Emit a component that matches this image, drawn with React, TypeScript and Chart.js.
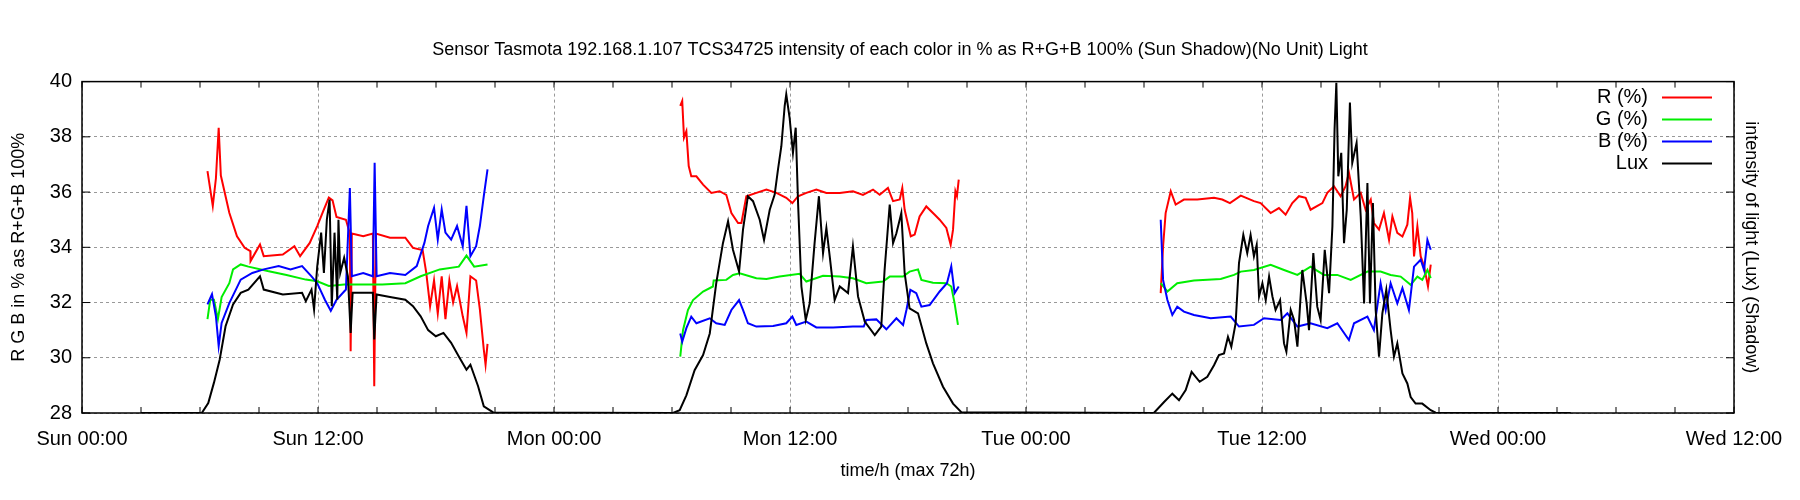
import React, { useEffect, useRef } from "react";
import { Chart, registerables } from "chart.js";
Chart.register(...registerables);

const titleText = "Sensor Tasmota 192.168.1.107 TCS34725 intensity of each color in % as R+G+B 100% (Sun Shadow)(No Unit) Light";
const xTitle = "time/h (max 72h)";
const yTitle = "R G B in % as R+G+B 100%";
const y1Title = "intensity of light (Lux) (Shadow)";
const dayNames = ["Sun", "Mon", "Tue", "Wed"];

// hours since Sun 00:00 ; null = gap
const rHours = [6.38,6.65,6.81,6.95,7.06,7.49,7.88,8.27,8.56,8.57,9.05,9.24,10.21,10.8,11.09,11.58,11.96,12.26,12.55,12.74,12.94,13.42,13.62,13.66,13.72,14.3,14.79,14.86,14.94,15.66,16.44,16.83,17.32,17.5,17.7,17.9,18.09,18.29,18.48,18.68,18.87,19.07,19.36,19.55,19.75,20.04,20.23,20.43,20.52,20.62,
  25,
  30.42,30.52,30.61,30.73,30.85,30.98,31.24,31.58,32.0,32.42,32.76,33.02,33.36,33.53,33.78,34.29,34.8,35.31,35.81,36.12,36.41,36.83,37.34,37.85,38.53,39.2,39.71,40.22,40.56,40.98,41.24,41.58,41.71,41.83,42.14,42.34,42.59,42.93,43.36,43.61,43.95,44.17,44.29,44.41,44.49,44.58,
  50,
  54.85,54.97,55.1,55.36,55.61,56.03,56.71,57.56,57.98,58.37,58.92,59.59,59.93,60.44,60.86,61.2,61.54,61.88,62.22,62.47,63.07,63.32,63.66,64.0,64.25,64.42,64.68,65.02,65.27,65.53,65.69,65.95,66.2,66.46,66.63,66.88,67.14,67.39,67.53,67.64,67.73,67.9,68.07,68.24,68.44,68.58];
const rValues = [36.76,35.5,36.5,38.33,36.6,35.25,34.4,33.98,33.86,33.5,34.1,33.68,33.74,34.04,33.68,34.16,34.77,35.3,35.8,35.7,35.1,35.0,34.5,30.24,34.5,34.4,34.5,28.97,34.5,34.35,34.35,33.98,33.9,33.1,31.87,32.8,31.6,32.95,31.4,32.8,32.0,32.6,31.5,30.9,32.95,32.8,31.75,30.3,29.75,30.5,
  null,
  39.12,39.3,37.97,38.2,36.94,36.57,36.57,36.27,35.97,36.03,35.9,35.24,34.88,34.88,35.85,35.97,36.09,35.97,35.79,35.6,35.85,35.97,36.09,35.97,35.97,36.03,35.9,36.09,35.9,36.15,35.67,35.73,36.15,35.36,34.4,34.46,35.12,35.48,35.18,35.0,34.7,34.09,34.64,36.03,35.85,36.45,
  null,
  32.34,34.03,35.24,36.03,35.55,35.73,35.73,35.79,35.73,35.6,35.87,35.67,35.6,35.24,35.42,35.18,35.6,35.85,35.79,35.36,35.6,35.97,36.21,35.85,36.21,36.7,35.73,35.97,35.36,35.73,34.88,34.64,35.24,34.27,35.12,34.52,34.39,34.82,35.79,35.24,33.67,34.76,33.67,33.31,32.58,33.37];

const gHours = [6.38,6.52,6.71,6.91,7.1,7.49,7.68,8.07,8.46,9.44,10.4,11.38,11.96,12.55,13.33,14.3,15.27,16.44,17.22,18.19,19.16,19.55,19.94,20.62,
  25,
  30.42,30.56,30.81,31.07,31.58,32.08,32.12,32.76,33.1,33.44,34.29,34.8,35.47,36.49,36.83,37.68,38.53,39.2,39.88,40.73,41.07,41.75,42.08,42.51,42.68,43.27,43.95,44.2,44.37,44.54,
  50,
  54.85,55.19,55.69,56.54,57.9,58.58,58.92,59.59,60.44,61.12,61.8,62.47,63.15,63.83,64.51,65.36,66.03,66.54,67.05,67.56,67.9,68.15,68.41,68.58];
const gValues = [31.4,32.1,32.1,31.4,32.2,32.7,33.2,33.38,33.3,33.14,33.0,32.83,32.77,32.6,32.65,32.65,32.65,32.7,32.95,33.2,33.3,33.7,33.3,33.38,
  null,
  30.04,31.0,31.73,32.09,32.4,32.58,32.8,32.82,33.0,33.06,32.88,32.85,32.94,33.04,32.76,32.97,32.94,32.88,32.7,32.76,32.94,32.94,33.12,33.2,32.82,32.72,32.7,32.58,31.97,31.19,
  null,
  32.7,32.4,32.7,32.8,32.85,33.0,33.12,33.18,33.37,33.18,33.0,33.3,33.0,33.0,32.82,33.12,33.12,33.0,32.94,32.64,32.94,32.82,33.18,32.88];

const bHours = [6.38,6.61,6.81,6.95,7.1,7.49,8.07,8.66,9.24,10.0,10.6,11.19,11.67,11.96,12.35,12.65,12.94,13.42,13.62,13.72,14.3,14.79,14.88,14.98,15.66,16.44,17.02,17.41,17.6,17.9,18.09,18.29,18.48,18.77,19.07,19.36,19.55,19.75,20.04,20.23,20.43,20.62,
  25,
  30.42,30.52,30.73,30.98,31.24,31.92,32.25,32.68,33.02,33.41,33.61,33.86,34.29,35.14,35.81,36.12,36.32,36.83,37.34,38.19,39.2,39.75,39.88,40.39,40.9,41.41,41.75,41.92,42.12,42.42,42.68,43.1,43.61,43.98,44.2,44.37,44.58,
  50,
  54.85,54.97,55.19,55.44,55.69,56.03,56.54,57.39,58.41,58.83,59.59,60.1,60.95,61.29,61.8,62.47,63.32,63.83,64.42,64.68,65.36,65.69,66.03,66.29,66.54,66.88,67.14,67.47,67.73,68.07,68.24,68.41,68.58];
const bValues = [31.93,32.3,31.5,30.42,31.26,31.98,32.83,33.07,33.2,33.32,33.2,33.32,32.95,32.7,32.1,31.7,32.1,32.47,36.15,32.95,33.07,32.95,37.06,32.95,33.07,33.0,33.32,34.16,34.77,35.43,34.28,35.37,34.53,34.28,34.77,34.04,35.5,33.68,34.04,34.77,35.85,36.82,
  null,
  30.88,30.58,31.07,31.49,31.25,31.43,31.25,31.19,31.73,32.09,31.73,31.25,31.13,31.15,31.25,31.49,31.19,31.31,31.1,31.1,31.13,31.13,31.37,31.39,31.03,31.43,31.19,31.73,32.46,32.34,31.85,31.91,32.4,32.7,33.31,32.34,32.58,
  null,
  35.0,32.82,32.09,31.55,31.85,31.67,31.55,31.43,31.49,31.13,31.19,31.43,31.37,31.61,31.13,31.25,31.07,31.25,30.64,31.25,31.49,31.0,32.7,31.73,32.7,31.97,32.52,31.73,33.3,33.55,33.18,34.27,33.91];

const luxHours = [3,6.09,6.42,6.71,7.0,7.3,7.68,8.07,8.46,9.05,9.24,10.21,11.19,11.38,11.67,11.8,11.96,12.16,12.3,12.45,12.59,12.7,12.84,12.98,13.04,13.13,13.33,13.52,13.66,13.76,14.3,14.79,14.86,14.98,15.66,16.44,16.83,17.22,17.6,17.99,18.38,18.77,19.16,19.55,19.75,20.14,20.43,20.91,
  30.05,30.39,30.73,31.15,31.58,31.92,32.25,32.59,32.85,33.1,33.41,33.61,33.86,34.12,34.46,34.68,34.97,35.22,35.39,35.56,35.73,35.81,35.98,36.15,36.29,36.41,36.58,36.8,37.0,37.25,37.47,37.68,37.85,38.02,38.27,38.53,38.95,39.2,39.46,39.8,40.31,40.64,40.81,41.07,41.24,41.41,41.66,41.83,42.08,42.51,42.93,43.27,43.78,44.29,44.71,
  54.5,55.02,55.44,55.78,56.12,56.42,56.83,57.22,57.56,57.81,58.07,58.27,58.44,58.66,58.83,59.05,59.25,59.42,59.59,59.73,59.85,60.02,60.19,60.36,60.53,60.69,60.92,61.12,61.24,61.46,61.63,61.8,62.05,62.27,62.39,62.61,62.81,62.98,63.19,63.41,63.58,63.69,63.78,63.88,64.03,64.17,64.31,64.47,64.59,64.81,65.02,65.19,65.36,65.49,65.64,65.78,65.95,66.12,66.32,66.54,66.71,66.88,67.14,67.39,67.56,67.81,68.15,68.58,68.83,75.7];
const luxValues = [0,0,36,110,193,314,393,435,447,495,447,429,435,405,447,375,530,653,507,700,773,387,653,410,700,507,562,495,290,435,435,435,266,429,420,410,387,350,300,278,290,254,205,157,175,97,24,2,
  0,10,64,155,210,288,470,615,694,591,512,664,785,767,700,627,736,791,882,966,1112,1154,1069,942,1033,760,458,337,397,615,785,579,670,567,409,458,434,603,422,331,282,313,518,755,615,651,724,506,379,361,252,180,95,34,3,
  0,40,70,46,83,149,113,131,173,210,216,276,240,325,543,645,579,645,567,609,422,470,409,494,422,373,409,252,222,373,337,240,518,397,300,579,385,337,591,434,676,1027,1196,857,942,615,736,1124,906,978,712,397,833,397,760,373,204,361,446,300,204,252,143,107,58,34,34,10,1,0];

const legendLabels = ["R (%)", "G (%)", "B (%)", "Lux"];
const colors = ["#ff0000", "#00ee00", "#0000ff", "#000000"];

const pts = (h: number[], v: (number | null)[]) => h.map((x, i) => ({ x, y: v[i] }));

export default function App() {
  const ref = useRef<HTMLCanvasElement>(null);
  useEffect(() => {
    document.body.style.margin = "0";
    const font = "'Liberation Sans', Arial, sans-serif";
    const frame = {
      id: "frame",
      afterDraw(chart: any) {
        const { ctx, chartArea: a, scales } = chart;
        ctx.save();
        ctx.strokeStyle = "#000";
        ctx.lineWidth = 1.5;
        ctx.strokeRect(a.left, a.top, a.right - a.left, a.bottom - a.top);
        ctx.lineWidth = 1;
        ctx.beginPath();
        for (let h = 0; h <= 84; h += 3) {
          const x = scales.x.getPixelForValue(h);
          ctx.moveTo(x, a.bottom); ctx.lineTo(x, a.bottom - 6);
          ctx.moveTo(x, a.top); ctx.lineTo(x, a.top + 6);
        }
        for (let v = 28; v <= 40; v += 2) {
          const y = scales.y.getPixelForValue(v);
          ctx.moveTo(a.left, y); ctx.lineTo(a.left + 8, y);
          ctx.moveTo(a.right, y); ctx.lineTo(a.right - 8, y);
        }
        ctx.stroke();
        // legend
        ctx.font = `20px ${font}`;
        ctx.textAlign = "right";
        ctx.textBaseline = "middle";
        legendLabels.forEach((t, i) => {
          const y = a.top + 16 + i * 22;
          ctx.fillStyle = "#000";
          ctx.fillText(t, a.right - 86, y);
          ctx.strokeStyle = colors[i];
          ctx.lineWidth = 2;
          ctx.beginPath();
          ctx.moveTo(a.right - 72, y); ctx.lineTo(a.right - 22, y);
          ctx.stroke();
        });
        ctx.restore();
      },
    };
    const mk = (i: number, data: any[], axis: string, order: number) => ({
      label: legendLabels[i], data, borderColor: colors[i], backgroundColor: colors[i],
      borderWidth: 2, pointRadius: 0, yAxisID: axis, order, spanGaps: false, tension: 0,
    });
    const chart = new Chart(ref.current!, {
      type: "line",
      data: {
        datasets: [
          mk(0, pts(rHours, rValues), "y", 3),
          mk(1, pts(gHours, gValues), "y", 2),
          mk(2, pts(bHours, bValues), "y", 1),
          mk(3, pts(luxHours, luxValues), "y1", 0),
        ],
      },
      plugins: [frame],
      options: {
        animation: false, responsive: false, parsing: true,
        layout: { padding: 0 },
        plugins: {
          legend: { display: false }, tooltip: { enabled: false },
          title: { display: true, text: titleText, color: "#000", font: { family: font, size: 18, weight: "normal" }, padding: { top: 39, bottom: 21 } },
        },
        scales: {
          x: {
            type: "linear", min: 0, max: 84,
            afterFit: (s: any) => { s.height = 87; },
            afterBuildTicks: (s: any) => { s.ticks = []; for (let h = 0; h <= 84; h += 3) s.ticks.push({ value: h }); },
            ticks: {
              autoSkip: false, maxRotation: 0, color: "#000", padding: 14, font: { family: font, size: 20 },
              callback: (v: any) => (v % 12 === 0 ? `${dayNames[Math.floor(v / 24)]} ${v % 24 === 0 ? "00" : "12"}:00` : ""),
            },
            grid: { drawTicks: false, color: (c: any) => (c.tick && c.tick.value % 12 === 0 ? "#999" : "rgba(0,0,0,0)"), lineWidth: 1 },
            border: { display: false, dash: [3, 3] },
            title: { display: true, text: xTitle, color: "#000", font: { family: font, size: 18 }, padding: { top: 4, bottom: 18 } },
          },
          y: {
            min: 28, max: 40, position: "left",
            afterFit: (s: any) => { s.width = 82; },
            ticks: { stepSize: 2, color: "#000", padding: 10, font: { family: font, size: 20 } },
            grid: { drawTicks: false, color: "#999" },
            border: { display: false, dash: [3, 3] },
            title: { display: true, text: yTitle, color: "#000", font: { family: font, size: 18 }, padding: { top: 8, bottom: 0 } },
          },
          y1: {
            min: 0, max: 1200, position: "right",
            afterFit: (s: any) => { s.width = 66; },
            ticks: { display: false },
            grid: { display: false },
            border: { display: false },
            title: { display: true, text: y1Title, color: "#000", font: { family: font, size: 18 }, padding: { top: 38, bottom: 0 } },
          },
        },
      } as any,
    });
    return () => chart.destroy();
  }, []);
  return <canvas ref={ref} width={1800} height={500} style={{ display: "block" }} />;
}
